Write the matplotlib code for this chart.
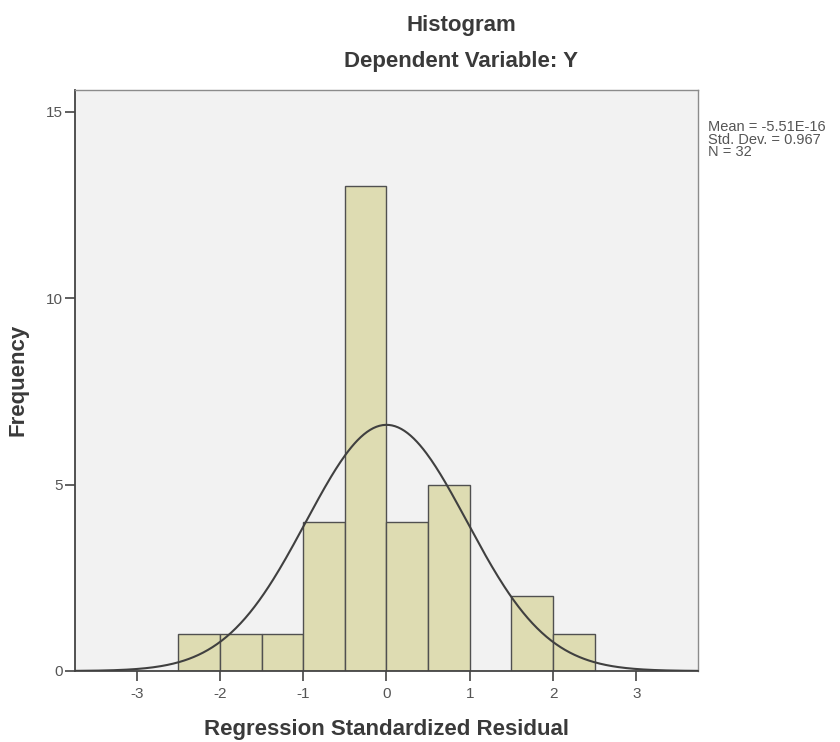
import numpy as np
import matplotlib
matplotlib.use('Agg')
import matplotlib.pyplot as plt

# residual histogram (bin width 0.5)
bin_left = [-2.5, -2.0, -1.5, -1.0, -0.5, 0.0, 0.5, 1.0, 1.5, 2.0]
counts = [1, 1, 1, 4, 13, 4, 5, 0, 2, 1]
bin_width = 0.5

mean = -5.51e-16
std_dev = 0.967
n_obs = 32

x_ticks = [-3, -2, -1, 0, 1, 2, 3]
y_ticks = [0, 5, 10, 15]

plt.rcParams['font.family'] = ['Liberation Sans', 'DejaVu Sans']
plt.rcParams['axes.unicode_minus'] = False

fig = plt.figure(figsize=(8.4, 7.42), dpi=100)
ax = fig.add_axes([75 / 840, 1 - 671 / 742, 623 / 840, 581 / 742])
ax.set_facecolor('#f2f2f2')

# bars (skip empty bins)
for left, c in zip(bin_left, counts):
    if c > 0:
        ax.bar(left, c, width=bin_width, align='edge', color='#dedcb2',
               edgecolor='#505050', linewidth=1.0, zorder=2)

# normal curve scaled to counts
xs = np.linspace(-3.74, 3.74, 400)
pdf = np.exp(-0.5 * ((xs - mean) / std_dev) ** 2) / (std_dev * np.sqrt(2 * np.pi))
ax.plot(xs, pdf * n_obs * bin_width, color='#404040', linewidth=1.5, zorder=3)

ax.set_xlim(-3.74, 3.74)
ax.set_ylim(0, 15.58)
ax.set_xticks(x_ticks)
ax.set_yticks(y_ticks)
ax.tick_params(axis='both', direction='out', length=7.5, width=1.2,
               color='#444444', labelcolor='#555555', labelsize=11)
ax.tick_params(axis='x', pad=4)
ax.tick_params(axis='y', pad=1.5)

for side in ['left', 'bottom']:
    ax.spines[side].set_color('#444444')
    ax.spines[side].set_linewidth(1.3)
for side in ['top', 'right']:
    ax.spines[side].set_color('#8c8c8c')
    ax.spines[side].set_linewidth(1.0)

title_col = '#3a3a3a'
fig.text(461 / 840, 1 - 25 / 742, 'Histogram', ha='center', va='center',
         fontsize=16, fontweight='bold', color=title_col)
fig.text(461 / 840, 1 - 62 / 742, 'Dependent Variable: Y', ha='center', va='center',
         fontsize=16, fontweight='bold', color=title_col)
fig.text(386.5 / 840, 1 - 729 / 742, 'Regression Standardized Residual',
         ha='center', va='center', fontsize=16, fontweight='bold', color=title_col)
fig.text(18 / 840, 1 - 380 / 742, 'Frequency', ha='center', va='center',
         rotation=90, fontsize=16, fontweight='bold', color=title_col)

# summary stats
stats = ['Mean = -5.51E-16', 'Std. Dev. = 0.967', 'N = %d' % n_obs]
for i, s in enumerate(stats):
    fig.text(708 / 840, 1 - (127 + 12.5 * i) / 742, s, ha='left', va='center',
             fontsize=10.5, color='#555555')

fig.savefig('out.png', dpi=100)
